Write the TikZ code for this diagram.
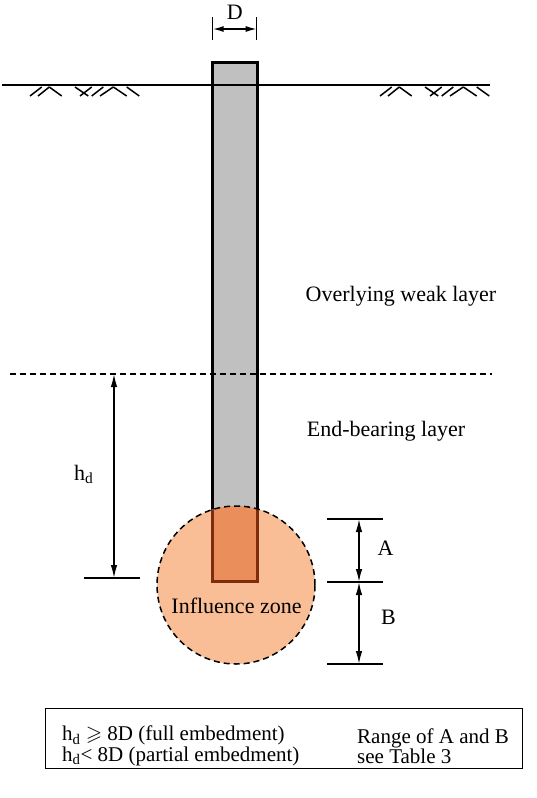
\documentclass[tikz,border=0pt]{standalone}
\usepackage{fontspec}
\usepackage{amssymb}
\setmainfont{Liberation Serif}
\usetikzlibrary{arrows.meta}
\definecolor{pilegray}{RGB}{192,192,192}
\definecolor{zonepeach}{RGB}{249,190,150}
\definecolor{pileorange}{RGB}{234,142,92}
\definecolor{pilebrown}{RGB}{125,45,12}
\tikzset{
  dimline/.style={line width=1.5pt, {Latex[length=13pt,width=6.5pt]}-{Latex[length=13pt,width=6.5pt]}},
  tickline/.style={line width=1.5pt},
  lbl/.style={font=\fontsize{22}{24}\selectfont, inner sep=0pt}
}
\newcommand\groundhatch{%
  \foreach \xa/\ya/\xb/\yb in {30/96/41.7/87, 38/96/49.3/87, 49.3/87/61.7/96, 75/87/88.3/96,
      80/96/91.7/87, 91.7/96/103.3/87, 100/96/113.3/87, 113.3/87/126.7/96, 126.7/87/139.3/96}
    \draw[line width=1.5pt] (\xa,\ya) -- (\xb,\yb);}

\begin{document}
\begin{tikzpicture}[x=1pt,y=-1pt]
  %%%%% START %%%%%
  \useasboundingbox (0,0) rectangle (536,798);

  % pile
  \draw[line width=3pt, fill=pilegray] (212,62) rectangle (257,581);

  % influence zone
  \fill[zonepeach] (236,585) circle[radius=79pt];
  \begin{scope}
    \clip (236,585) circle[radius=79pt];
    \draw[line width=3pt, draw=pilebrown, fill=pileorange] (212,62) rectangle (257,581);
  \end{scope}
  \draw[line width=1.5pt, dash pattern=on 6pt off 4pt] (236,585) circle[radius=79pt];
  \node[lbl] (zone) at (236.5,606) {Influence zone};

  % ground surface
  \coordinate (gl) at (2,85);
  \coordinate (gr) at (490,85);
  \draw[line width=1.8pt] (gl) -- (gr);
  \groundhatch
  \begin{scope}[xshift=350pt]
    \groundhatch
  \end{scope}

  % layer boundary
  \coordinate (bl) at (10,374);
  \coordinate (br) at (492,374);
  \draw[line width=1.3pt, dash pattern=on 6pt off 4pt] (bl) -- (br);

  \node[lbl] (weak) at (401,296) {Overlying weak layer};
  \node[lbl] (bearing) at (386,431) {End-bearing layer};

  % D
  \coordinate (d1t) at (212.7,17);
  \coordinate (d1b) at (212.7,40);
  \coordinate (d2t) at (256.7,17);
  \coordinate (d2b) at (256.7,40);
  \coordinate (d1) at (212.7,29);
  \coordinate (d2) at (256.7,29);
  \draw[tickline] (d1t) -- (d1b);
  \draw[tickline] (d2t) -- (d2b);
  \draw[dimline, {Latex[length=11pt,width=6pt]}-{Latex[length=11pt,width=6pt]}] (d1) -- (d2);
  \node[lbl, anchor=base] (dlab) at (234.7,19) {D};

  % h_d
  \coordinate (htop) at (114,374);
  \coordinate (hbot) at (114,578);
  \coordinate (hl) at (84,578);
  \coordinate (hr) at (140,578);
  \draw[tickline] (hl) -- (hr);
  \draw[dimline] (htop) -- (hbot);
  \node[lbl, anchor=base west] (hlab) at (74,480) {h\textsubscript{d}};

  % A and B
  \coordinate (a1l) at (327,519);
  \coordinate (a1r) at (383,519);
  \coordinate (a2l) at (327,582);
  \coordinate (a2r) at (383,582);
  \coordinate (a3l) at (327,664);
  \coordinate (a3r) at (383,664);
  \draw[tickline] (a1l) -- (a1r);
  \draw[tickline] (a2l) -- (a2r);
  \draw[tickline] (a3l) -- (a3r);
  \draw[dimline] (359,519) coordinate (atop) -- (359,582) coordinate (amid);
  \draw[dimline] (amid) -- (359,664) coordinate (bbot);
  \node[lbl] (alab) at (385.5,548) {A};
  \node[lbl] (blab) at (388.5,617) {B};

  % legend
  \draw[line width=1pt] (45,708) rectangle (522,768);
  \node[lbl, anchor=west, align=left, font=\fontsize{21}{20.5}\selectfont] (cond) at (62,746)
    {h\textsubscript{d} $\geqslant$ 8D (full embedment)\\ h\textsubscript{d}< 8D (partial embedment)};
  \node[lbl, anchor=west, align=left, font=\fontsize{21}{20.5}\selectfont] (range) at (357,746)
    {Range of A and B\\ see Table 3};
  %%%%% END %%%%%
\end{tikzpicture}
\end{document}
